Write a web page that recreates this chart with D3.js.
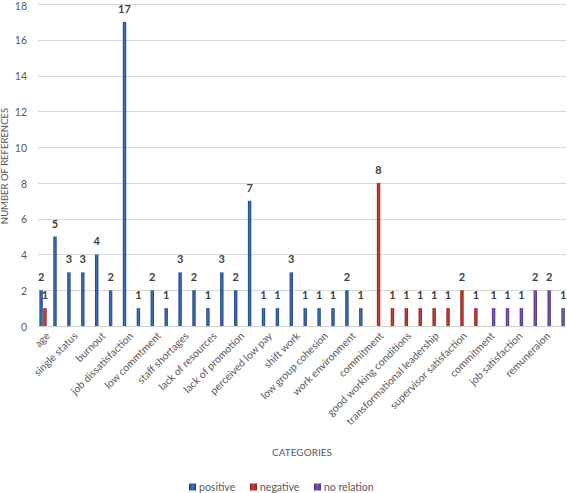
<!DOCTYPE html>
<html>
<head>
<meta charset="utf-8">
<script src="https://cdn.jsdelivr.net/npm/d3@7"></script>
<style>
  body { margin: 0; background: #fff; }
  svg { display: block; font-family: Lato, "Open Sans", sans-serif; }
</style>
</head>
<body>
<svg id="chart" width="567" height="493"></svg>
<script>
// Category labels shown on the axis (every other category carries a label)
const categories = [
  "age", "", "single status", "", "burnout", "", "job dissatisfaction", "",
  "low commtment", "", "staff shortages", "", "lack of resources", "",
  "lack of promotion", "", "perceived low pay", "", "shift work", "",
  "low group cohesion", "", "work environment", "", "commitment", "",
  "good working conditions", "", "transformational leadership", "",
  "supervisor satisfaction", "", "commitment", "", "job satisfaction", "",
  "remuneraion", ""
];
const seriesNames = ["positive", "negative", "no relation"];
const positive = [2,5,3,3,4,2,17,1,2,1,3,2,1,3,2,7,1,1,3,1,1,1,2,1,
  null,null,null,null,null,null,null,null,null,null,null,null,null,null];
const negative = [1,null,null,null,null,null,null,null,null,null,null,null,null,null,null,null,null,null,null,null,null,null,null,null,
  8,1,1,1,1,1,2,1,null,null,null,null,null,null];
const noRelation = [null,null,null,null,null,null,null,null,null,null,null,null,null,null,null,null,null,null,null,null,null,null,null,null,
  null,null,null,null,null,null,null,null,1,1,1,2,2,1];
const yTicks = [0,2,4,6,8,10,12,14,16,18];
const colors = {
  "positive": ["#1f4277", "#3b6fbe"],
  "negative": ["#8c1c1c", "#c9403a"],
  "no relation": ["#4a2f7a", "#7b5bb5"]
};

const svg = d3.select("#chart");
const plotB = 326;

const idx = categories.map((_, i) => i);
const x0 = d3.scaleBand().domain(idx).range([38, 566.2]).padding(0);
const bw = x0.bandwidth();
const x1 = d3.scaleBand().domain(seriesNames).range([bw/2 - 6, bw/2 + 6]).padding(0.12);
const y = d3.scaleLinear().domain([0, 18]).range([plotB, 4]);

// gradients
const defs = svg.append("defs");
Object.entries(colors).forEach(([k, c], i) => {
  const g = defs.append("linearGradient").attr("id", "g" + i)
    .attr("x1", "0%").attr("x2", "100%").attr("y1", "0%").attr("y2", "0%");
  g.append("stop").attr("offset", "0%").attr("stop-color", c[0]);
  g.append("stop").attr("offset", "50%").attr("stop-color", c[1]);
  g.append("stop").attr("offset", "100%").attr("stop-color", c[0]);
});

// gridlines
svg.append("g").selectAll("line").data(yTicks).join("line")
  .attr("x1", 38).attr("x2", 566)
  .attr("y1", d => Math.round(y(d)) + 0.5).attr("y2", d => Math.round(y(d)) + 0.5)
  .attr("stroke", d => d === 0 ? "#d0d0d0" : "#d9d9d9").attr("stroke-width", 1);

// y tick labels
svg.append("g").selectAll("text").data(yTicks).join("text")
  .attr("x", 27).attr("y", d => Math.max(y(d) + 1, 6)).attr("dy", "0.35em")
  .attr("text-anchor", "end").attr("font-size", 10.5).attr("fill", "#595959")
  .text(d => d);

// bars
const seriesData = [positive, negative, noRelation];
const bars = [];
seriesData.forEach((arr, si) => {
  arr.forEach((v, ci) => {
    if (v != null) bars.push({s: seriesNames[si], si, ci, v});
  });
});
svg.append("g").selectAll("rect").data(bars).join("rect")
  .attr("x", d => x0(d.ci) + x1(d.s))
  .attr("width", x1.bandwidth())
  .attr("y", d => y(d.v))
  .attr("height", d => plotB - y(d.v))
  .attr("fill", d => "url(#g" + d.si + ")");

// data labels
svg.append("g").selectAll("text").data(bars).join("text")
  .attr("x", d => x0(d.ci) + x1(d.s) + x1.bandwidth()/2)
  .attr("y", d => y(d.v) - 9)
  .attr("text-anchor", "middle").attr("font-size", 11).attr("font-weight", "bold")
  .attr("fill", "#404040")
  .text(d => d.v);

// x labels
svg.append("g").selectAll("text").data(idx.filter(i => categories[i] !== "")).join("text")
  .attr("transform", i => `translate(${x0(i) + bw/2 + 3},${plotB + 8}) rotate(-45)`)
  .attr("text-anchor", "end").attr("dy", "0.35em")
  .attr("font-size", 10.5).attr("fill", "#595959")
  .text(i => categories[i]);

// axis titles
svg.append("text").attr("transform", `translate(8,166) rotate(-90)`)
  .attr("text-anchor", "middle").attr("font-size", 9.5).attr("fill", "#595959")
  .text("NUMBER OF REFERENCES");
svg.append("text").attr("x", 302).attr("y", 452).attr("dy", "0.35em")
  .attr("text-anchor", "middle").attr("font-size", 10).attr("fill", "#595959")
  .text("CATEGORIES");

// legend
const legX = [189, 250, 314];
const leg = svg.append("g").selectAll("g").data(seriesNames).join("g")
  .attr("transform", (d, i) => `translate(${legX[i]},487)`);
leg.append("rect").attr("x", 0).attr("y", -3.5).attr("width", 7).attr("height", 7)
  .attr("fill", (d, i) => "url(#g" + i + ")");
leg.append("text").attr("x", 10).attr("dy", "0.35em").attr("font-size", 10.5)
  .attr("fill", "#595959").text(d => d);
</script>
</body>
</html>
